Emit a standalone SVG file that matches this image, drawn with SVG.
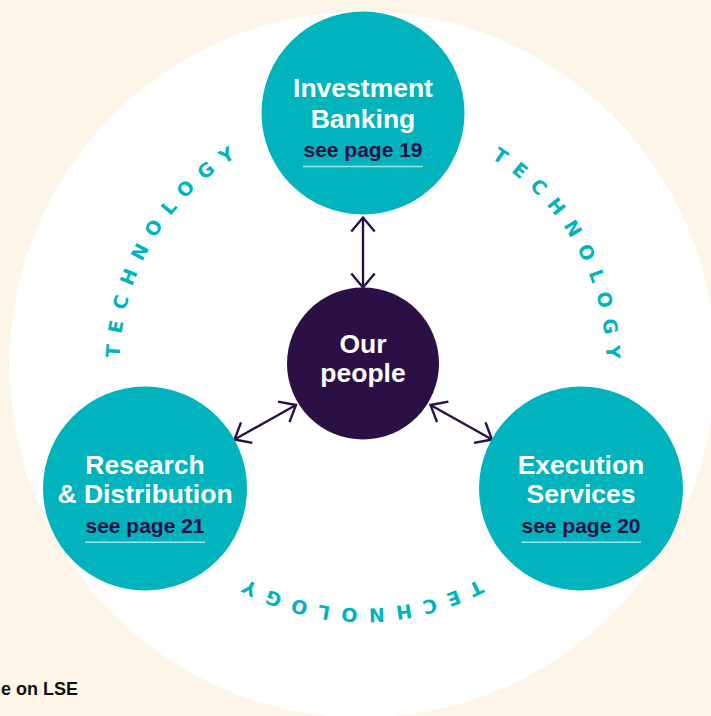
<svg xmlns="http://www.w3.org/2000/svg" width="711" height="716" viewBox="0 0 711 716">
  <style>
    .hub { fill: #00b3bd; }
    .core { fill: #2a1044; }
    .title { font-family: "Liberation Sans", Arial, sans-serif; font-weight: 700; font-size: 26.5px; fill: #ffffff; text-anchor: middle; }
    .link { font-family: "Liberation Sans", Arial, sans-serif; font-weight: 700; font-size: 21px; fill: #2a1044; text-anchor: middle; }
    .rule { stroke: #a9dfe4; stroke-width: 1.5; }
    .ring { font-family: "DejaVu Sans", "Liberation Sans", sans-serif; font-weight: 700; font-size: 19px; fill: #00b3bd; letter-spacing: 10.8px; text-anchor: middle; }
    .conn { fill: none; stroke: #2a1044; stroke-width: 2.4; marker-start: url(#chev); marker-end: url(#chev); }
  </style>
  <defs>
    <marker id="chev" viewBox="-16 -14 18 28" refX="0" refY="0" markerWidth="18" markerHeight="28" orient="auto-start-reverse" markerUnits="userSpaceOnUse" overflow="visible">
      <path d="M-14,-11.7 L0,0 L-14,11.7" fill="none" stroke="#2a1044" stroke-width="2.4"/>
    </marker>
    <!-- clockwise ring starting at the rightmost point, baseline radius 243.5 -->
    <path id="ringPath" d="M606.5,365 A243.5,243.5 0 1 1 119.5,365 A243.5,243.5 0 1 1 606.5,365"/>
  </defs>

  <!-- backdrop -->
  <rect x="0" y="0" width="711" height="716" fill="#fdf5e7"/>
  <circle cx="362.5" cy="364.5" r="353" fill="#ffffff"/>
  <text x="78" y="695" font-family="'Liberation Sans', Arial, sans-serif" font-weight="700" font-size="18" fill="#111111" text-anchor="end">e on LSE</text>

  <!-- technology ring labels -->
  <g id="technology">
    <text class="ring"><textPath href="#ringPath" startOffset="387.9">TECHNOLOGY</textPath></text>
    <text class="ring"><textPath href="#ringPath" startOffset="898">TECHNOLOGY</textPath></text>
    <text class="ring"><textPath href="#ringPath" startOffset="1408">TECHNOLOGY</textPath></text>
  </g>

  <!-- connectors -->
  <g id="connectors">
    <path class="conn" d="M363,217.5 L363,287.5"/>
    <path class="conn" d="M296,405 L234.5,439.5"/>
    <path class="conn" d="M430.5,405 L492,439.5"/>
  </g>

  <g id="investment-banking">
    <circle class="hub" cx="363" cy="113" r="101.5"/>
    <text class="title" x="363" y="96.7">Investment</text>
    <text class="title" x="363" y="127.7">Banking</text>
    <text class="link" x="363" y="156.7">see page 19</text>
    <line class="rule" x1="303" y1="166.5" x2="423" y2="166.5"/>
  </g>

  <g id="research-distribution">
    <circle class="hub" cx="145" cy="488.5" r="102"/>
    <text class="title" x="145" y="474.3">Research</text>
    <text class="title" x="145" y="503.3">&amp; Distribution</text>
    <text class="link" x="145" y="533.3">see page 21</text>
    <line class="rule" x1="85" y1="542.3" x2="205" y2="542.3"/>
  </g>

  <g id="execution-services">
    <circle class="hub" cx="581" cy="488.5" r="102"/>
    <text class="title" x="581" y="474.3">Execution</text>
    <text class="title" x="581" y="503.3">Services</text>
    <text class="link" x="581" y="533.3">see page 20</text>
    <line class="rule" x1="521.5" y1="542.3" x2="641" y2="542.3"/>
  </g>

  <g id="our-people">
    <circle class="core" cx="363" cy="363.5" r="76"/>
    <text class="title" x="363" y="353.3">Our</text>
    <text class="title" x="363" y="381.5">people</text>
  </g>
</svg>
